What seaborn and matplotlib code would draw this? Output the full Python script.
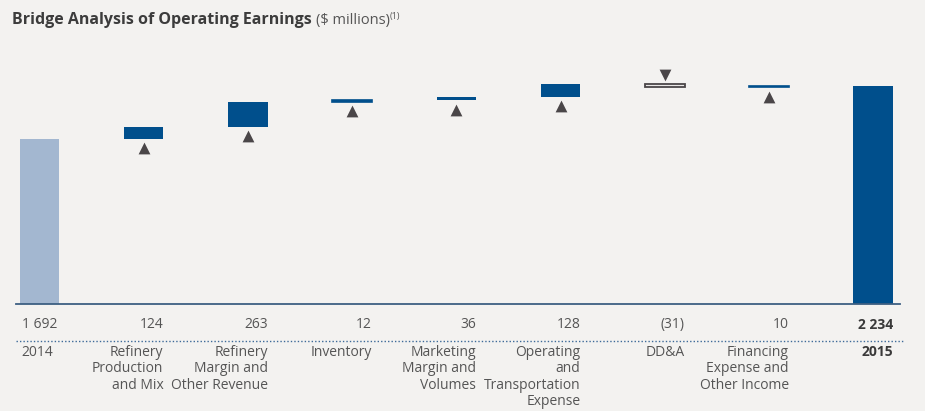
import numpy as np
import pandas as pd
import matplotlib
matplotlib.use("Agg")
import matplotlib.pyplot as plt
import matplotlib.transforms as mtransforms
from matplotlib.lines import Line2D
import seaborn as sns

# data
steps = ["2014", "Refinery Production and Mix", "Refinery Margin and Other Revenue",
         "Inventory", "Marketing Margin and Volumes", "Operating and Transportation Expense",
         "DD&A", "Financing Expense and Other Income", "2015"]
changes = [1692, 124, 263, 12, 36, 128, -31, 10]
value_labels = ["1 692", "124", "263", "12", "36", "128", "(31)", "10", "2 234"]
cat_labels = ["2014", "Refinery\nProduction\nand Mix", "Refinery\nMargin and\nOther Revenue",
              "Inventory", "Marketing\nMargin and\nVolumes", "Operating\nand\nTransportation\nExpense",
              "DD&A", "Financing\nExpense and\nOther Income", "2015"]

# waterfall bases / heights
running = np.cumsum(changes)
total = running[-1]
bottoms = [0] + [running[i - 1] for i in range(1, len(changes))] + [0]
heights = [changes[0]] + changes[1:] + [total]
df = pd.DataFrame({"step": steps, "bottom": bottoms, "height": heights})

BG = "#f3f2f0"
DARK = "#004f8c"
LIGHT = "#a3b7d0"
TRI = "#4a4648"
TXT = "#555555"

sns.set_style("white")
plt.rcParams["font.family"] = ["Open Sans", "DejaVu Sans"]

W, H = 925, 411
fig = plt.figure(figsize=(9.25, 4.11), dpi=100, facecolor=BG)
ax = fig.add_axes([16 / W, (H - 304) / H, 884 / W, 264 / H])
ax.set_facecolor(BG)

sns.barplot(data=df, x="step", y="height", bottom=df["bottom"], order=steps,
            color=DARK, width=0.38, errorbar=None, saturation=1, linewidth=0, ax=ax)

for i, p in enumerate(ax.patches):
    if i == 0:
        p.set_facecolor(LIGHT)
    elif 0 < i < len(changes):
        if changes[i] < 0:
            p.set_facecolor("#e9e7e6")
            p.set_edgecolor(TRI)
            p.set_linewidth(1.3)
        elif abs(changes[i]) < 20:
            p.set_edgecolor(DARK)
            p.set_linewidth(1.2)

# arrows under/over the change bars
off = 95
for i in range(1, len(changes)):
    c = changes[i]
    if c >= 0:
        ax.scatter(i, bottoms[i] - off, marker="^", s=72, color=TRI, linewidths=0, zorder=3)
    else:
        ax.scatter(i, bottoms[i] + off, marker="v", s=72, color=TRI, linewidths=0, zorder=3)

ax.set_xlim(-0.2255, 8.258)
ax.set_ylim(0, 264 * 10.27)
ax.set_xlabel("")
ax.set_ylabel("")
ax.set_yticks([])
ax.tick_params(axis="x", length=0, labelbottom=False)
for s in ["top", "left", "right"]:
    ax.spines[s].set_visible(False)
ax.spines["bottom"].set_color("#3d5f82")
ax.spines["bottom"].set_linewidth(1.3)

# labels under the axis
trans = mtransforms.blended_transform_factory(ax.transData, fig.transFigure)
hw = 0.19
for i, (v, c) in enumerate(zip(value_labels, cat_labels)):
    bold = i == len(steps) - 1
    if i == 0:
        x, ha = i - hw + 0.02, "left"
    else:
        x, ha = i + hw, "right"
    ax.text(x, (H - 324.5) / H, v, transform=trans, ha=ha, va="center", fontsize=10,
            color="#3a3a3a" if bold else TXT, fontweight="bold" if bold else "normal")
    ax.text(x, (H - 344.5) / H, c, transform=trans, ha=ha, va="top", fontsize=10,
            multialignment=ha, linespacing=1.15,
            color="#3a3a3a" if bold else TXT, fontweight="bold" if bold else "normal")

fig.add_artist(Line2D([16 / W, 904 / W], [(H - 341) / H] * 2, transform=fig.transFigure,
                      color="#3d6a99", linewidth=1.0, linestyle=(0, (1, 1.5))))

# title
t1 = fig.text(12 / W, (H - 24) / H, "Bridge Analysis of Operating Earnings", fontsize=11.5,
              fontweight="bold", color="#3c3c3c", va="baseline", ha="left")
fig.canvas.draw()
bb = t1.get_window_extent()
t2 = fig.text((bb.x1 + 4) / W, (H - 24) / H, "($ millions)", fontsize=10.5,
              color="#555555", va="baseline", ha="left")
fig.canvas.draw()
bb2 = t2.get_window_extent()
fig.text(bb2.x1 / W, (H - 19) / H, "(1)", fontsize=6.5, color="#555555", va="baseline", ha="left")

fig.savefig("out.png", dpi=100, facecolor=BG)
